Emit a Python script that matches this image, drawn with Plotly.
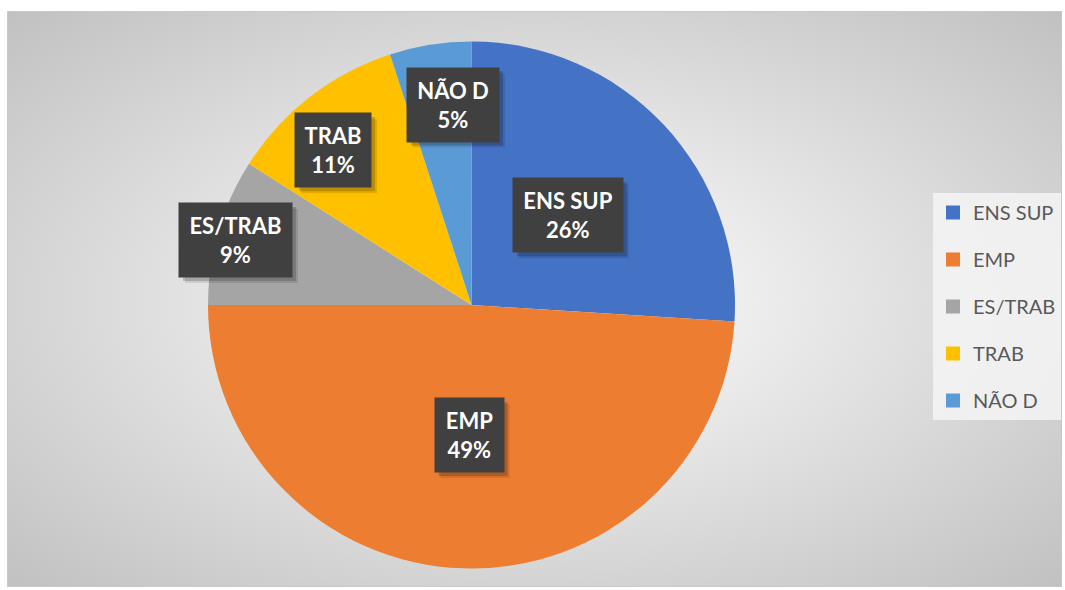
import base64
import math
import plotly.graph_objects as go

# ---- data ----
categories = ["ENS SUP", "EMP", "ES/TRAB", "TRAB", "NÃO D"]
values = [26, 49, 9, 11, 5]
colors = ["#4472C4", "#ED7D31", "#A5A5A5", "#FFC000", "#5B9BD5"]

# label placement (style): fraction of radius, angle nudge (deg), box widths in px
label_r = [0.50, 0.493, 0.929, 0.788, 0.764]
label_da = [0.2, -0.7, -0.8, -4.0, 3.7]
box_w = [110, 69, 113, 76, 92]
box_h = 74
pad = 4

W, H = 1065, 590
cx, cy, R = 471.5, 305.0, 263.5

fig = go.Figure()

fig.add_trace(go.Pie(
    labels=categories, values=values, sort=False, direction="clockwise",
    rotation=0, marker=dict(colors=colors, line=dict(width=0)),
    textinfo="none", hoverinfo="label+percent", showlegend=False,
    domain=dict(x=[(cx - R) / W, (cx + R) / W], y=[(H - (cy + R)) / H, (H - (cy - R)) / H]),
))

# legend entries (one group each so spacing can be controlled)
for cat, col in zip(categories, colors):
    fig.add_trace(go.Scatter(
        x=[None], y=[None], mode="markers", name=cat, legendgroup=cat,
        marker=dict(symbol="square", size=14, color=col),
    ))

# labels at slice mid-angles
total = sum(values)
acc = 0
for cat, v, fr, da, bw in zip(categories, values, label_r, label_da, box_w):
    mid = (acc + v / 2) / total * 2 * math.pi + math.radians(da)
    acc += v
    px = cx + fr * R * math.sin(mid)
    py = cy - fr * R * math.cos(mid)
    pct = round(v / total * 100)
    text = f"<b>{cat}</b><br><b>{pct}%</b>"
    # soft shadow (shape, lower-right)
    for off, alpha in ((6, 0.10), (4, 0.18)):
        fig.add_shape(type="rect", xref="paper", yref="paper", layer="above",
                      x0=(px - bw / 2 + off) / W, x1=(px + bw / 2 + off) / W,
                      y0=1 - (py + box_h / 2 + off) / H, y1=1 - (py - box_h / 2 + off) / H,
                      fillcolor=f"rgba(0,0,0,{alpha})", line=dict(width=0))
    fig.add_annotation(x=px / W, y=1 - py / H, xref="paper", yref="paper",
                       text=text, showarrow=False, bgcolor="#404040",
                       width=bw - 2 * pad, height=box_h - 2 * pad, borderpad=pad,
                       font=dict(family="Lato", size=22, color="white"),
                       xanchor="center", yanchor="middle")

svg = '''<svg xmlns="http://www.w3.org/2000/svg" width="1055" height="576">
<defs><radialGradient id="g" cx="50%" cy="50%" r="75%">
<stop offset="0%" stop-color="#ffffff"/><stop offset="100%" stop-color="#bdbdbd"/>
</radialGradient></defs>
<rect x="0" y="0" width="1055" height="576" fill="url(#g)"/>
<rect x="0.5" y="0.5" width="1054" height="575" fill="none" stroke="#c8c8c8"/>
</svg>'''
src = "data:image/svg+xml;base64," + base64.b64encode(svg.encode()).decode()
fig.add_layout_image(dict(source=src, xref="paper", yref="paper", x=7 / W, y=1 - 11 / H,
                          sizex=1055 / W, sizey=576 / H, sizing="stretch",
                          xanchor="left", yanchor="top", layer="below"))

fig.update_layout(
    width=W, height=H, margin=dict(l=0, r=0, t=0, b=0),
    paper_bgcolor="white", plot_bgcolor="rgba(0,0,0,0)",
    xaxis=dict(visible=False), yaxis=dict(visible=False),
    legend=dict(x=933 / W, y=1 - 193 / H, xanchor="left", yanchor="top",
                bgcolor="rgba(245,245,245,0.85)", tracegroupgap=18,
                font=dict(family="Lato", size=20, color="#595959"),
                itemwidth=30),
)

fig.write_html("out.html", config={"displayModeBar": False},
               post_script="document.body.style.margin='0';")
